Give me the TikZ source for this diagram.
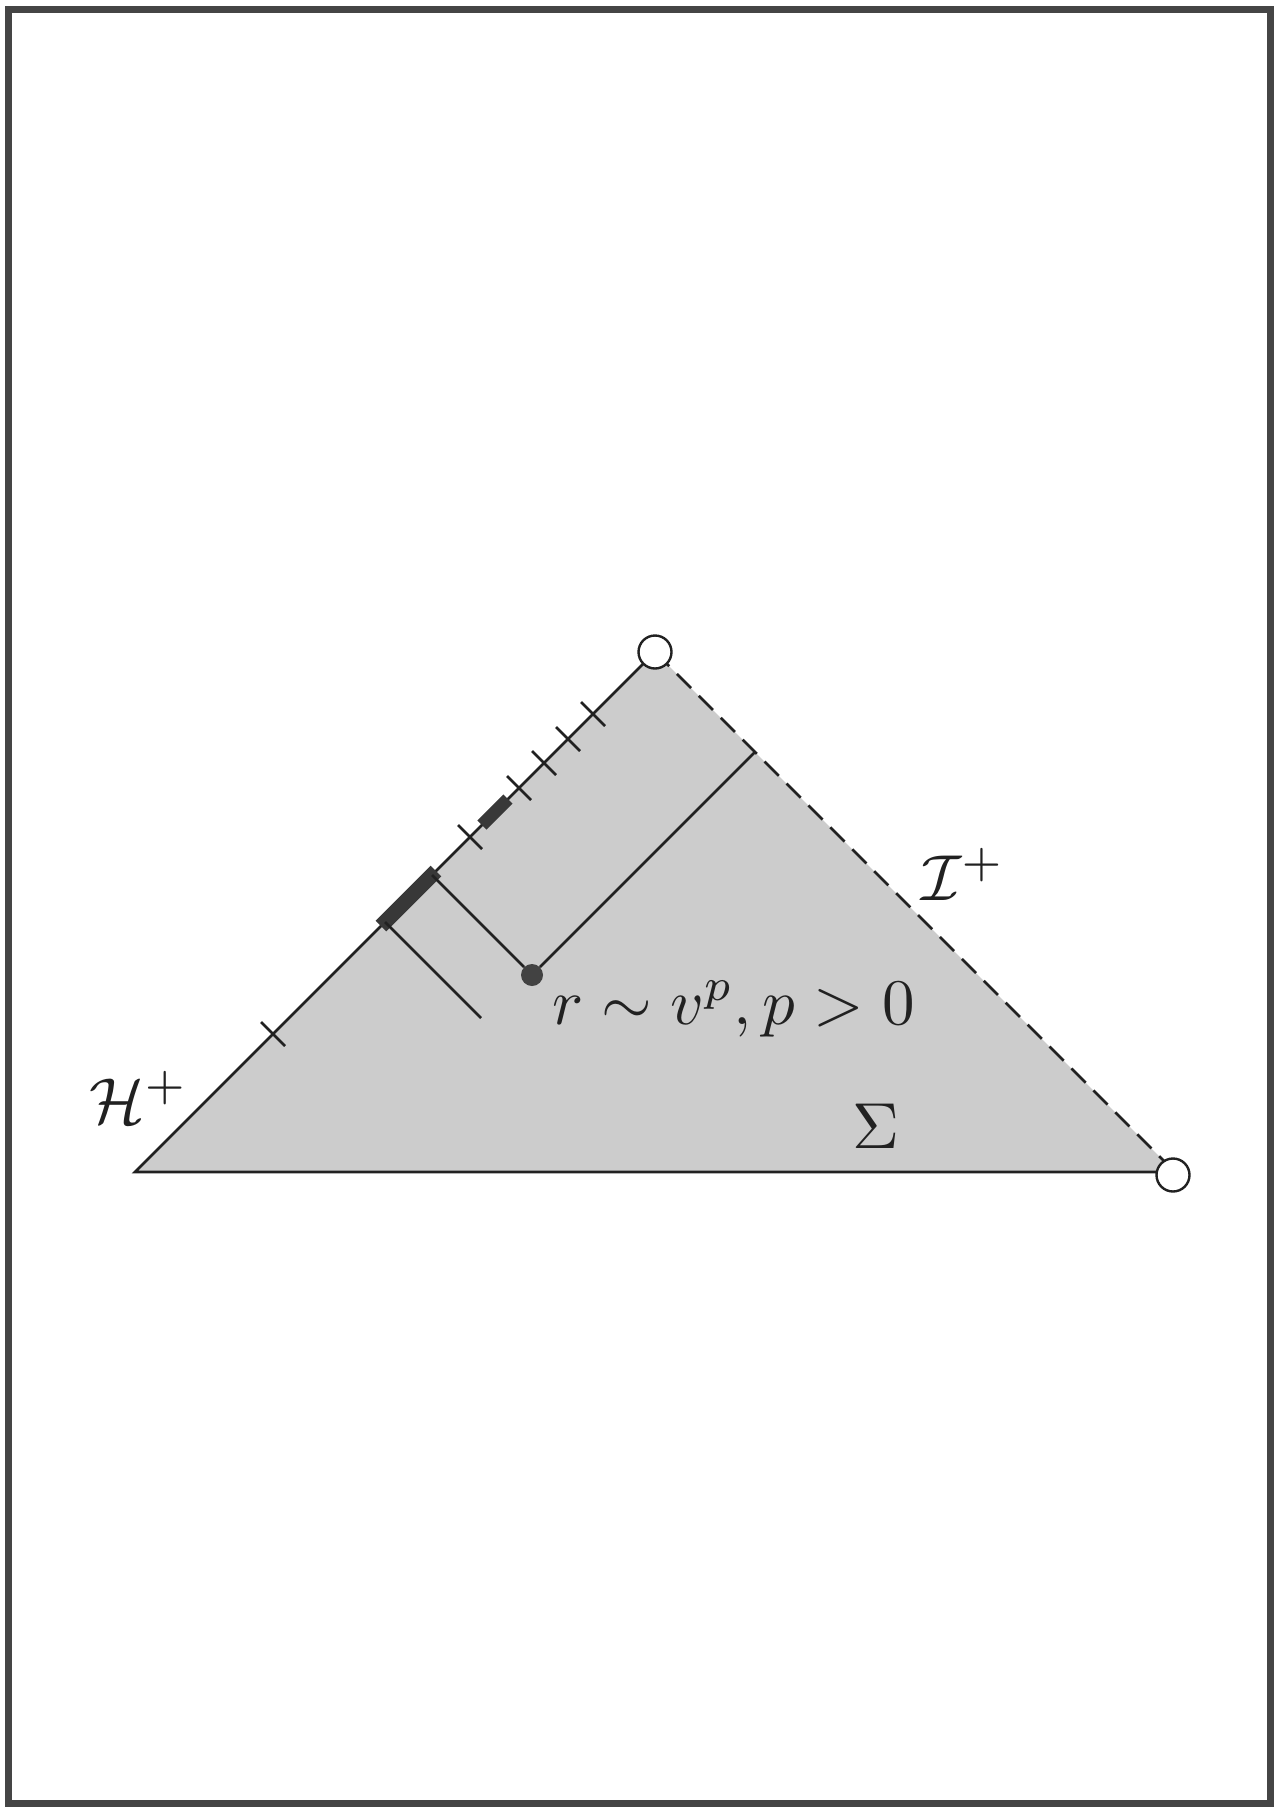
\documentclass[tikz,border=0pt]{standalone}
\usepackage{amsmath}
\definecolor{linec}{gray}{0.13}
\definecolor{framec}{gray}{0.27}
\definecolor{barc}{gray}{0.22}
\definecolor{fillg}{gray}{0.80}
\begin{document}
\begin{tikzpicture}[x=1pt,y=-1pt,
  edge/.style={line width=2.8pt, draw=linec},
  tickmark/.style={line width=2.5pt, draw=linec},
  bar/.style={draw=barc, line cap=butt},
  lab/.style={inner sep=0pt, scale=6.5, text=linec},
  opendot/.style={circle, draw=linec, line width=2.4pt, fill=white, minimum size=33pt, inner sep=0pt},
  fulldot/.style={circle, fill=linec!85!white, minimum size=22pt, inner sep=0pt}]
\useasboundingbox (0,0) rectangle (1275,1810);
\draw[line width=7pt, draw=framec] (8,9) rectangle (1270,1803);
% triangle
\coordinate (T) at (655,652);
\coordinate (L) at (135,1172);
\coordinate (R) at (1175,1172);
\fill[fillg] (T) -- (L) -- (R) -- cycle;
\draw[edge] (R) -- (L) -- (T);
\draw[edge, dash pattern=on 20pt off 11pt] (T) -- (R);
% ticks on the horizon
\foreach \x in {593,568,544,519,470,273}{
  \pgfmathsetmacro\yy{1307-\x}
  \draw[tickmark] (\x-12,\yy-12) -- (\x+12,\yy+12);
}
% thick bars
\draw[bar, line width=13pt] (508,799) -- (482,825);
\draw[bar, line width=15pt] (436,871) -- (381,926);
% inner lines
\coordinate (P1) at (432,875);
\coordinate (P2) at (385,922);
\coordinate (E2) at (481,1018);
\coordinate (Q) at (755,752);
\node[fulldot] (D) at (532,975) {};
\draw[edge] (P1) -- (D) -- (Q);
\draw[edge] (P2) -- (E2);
% open end points
\node[opendot] (TC) at (T) {};
\node[opendot] (RC) at (1173,1175) {};
% labels
\node[lab, anchor=base west] (H) at (88,1123) {$\mathcal{H}^+$};
\node[lab, anchor=base west] (I) at (920,900) {$\mathcal{I}^+$};
\node[lab, anchor=base] (S) at (876,1148) {$\Sigma$};
\node[lab, anchor=base west] (RV) at (551,1024) {$r\sim v^p, p>0$};
\end{tikzpicture}
\end{document}
